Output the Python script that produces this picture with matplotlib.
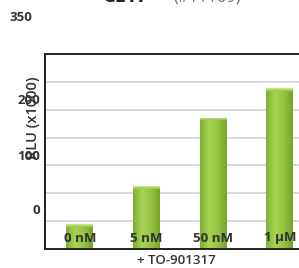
import matplotlib
matplotlib.use("Agg")
import matplotlib.pyplot as plt
import matplotlib.transforms as mtransforms
import numpy as np
from matplotlib.colors import LinearSegmentedColormap

plt.rcParams['font.family'] = ['Open Sans', 'DejaVu Sans']

categories = ["0 nM", "5 nM", "50 nM", "1 \u00b5M"]
values = [44, 113, 236, 289]
ytick_vals = [0, 100, 200]
ytick_labels = ["0", "100", "200"]
top_label_val = 350
top_label = "350"
title_main = "CETP"
title_sub = "(#11169)"
ylabel = "RLU (x1000)"
xlabel = "+ TO-901317"

W, H = 299, 268
fig = plt.figure(figsize=(W / 100, H / 100), dpi=100)

# main plotting axes
ax = fig.add_axes([45 / W, (H - 249) / H, (W - 45) / W + 0.01, (249 - 54) / H])
x = np.arange(len(categories))
bars = ax.bar(x, values, width=0.405, color="#8fc13e", zorder=3, linewidth=0)
ax.set_yticks(np.arange(50, 350, 50))
ax.yaxis.grid(True, color="#d2d2d2", linewidth=1.2, zorder=0)
ax.set_axisbelow(True)
ax.tick_params(axis="y", length=0, labelleft=False)
ax.set_xticks(x)
ax.tick_params(axis="x", length=0, labelbottom=False)
for side in ["top", "left", "bottom"]:
    ax.spines[side].set_linewidth(1.4)
    ax.spines[side].set_color("#222222")
    ax.spines[side].set_zorder(6)
ax.spines["right"].set_visible(False)

# gradient shading on bars
cmap = LinearSegmentedColormap.from_list("g", ["#7eae30", "#a9d453", "#94c442", "#76a52b"])
capmap = LinearSegmentedColormap.from_list("c", ["#a0cc4d", "#c6e482"])
grad = np.linspace(0, 1, 64).reshape(1, -1)
for b in bars:
    x0, y0 = b.get_x(), b.get_y()
    w, h = b.get_width(), b.get_height()
    im = ax.imshow(grad, cmap=cmap, extent=[x0, x0 + w, y0, y0 + h], aspect="auto", zorder=3.5)
    im.set_clip_path(b)
    cap = ax.imshow(np.array([[1.0], [0.0]]), cmap=capmap,
                    extent=[x0, x0 + w, y0 + h - 5, y0 + h], aspect="auto", zorder=3.6)
    cap.set_clip_path(b)
ax.set_xlim(-0.525, 3.33)
ax.set_ylim(0, 350)

# category labels drawn over the bars
trans = mtransforms.blended_transform_factory(ax.transData, ax.transAxes)
for xi, c in zip(x, categories):
    ax.text(xi, (249 - 238) / (249 - 54), c, transform=trans, ha="center", va="center",
            fontsize=9.5, fontweight="bold", color="#333333", zorder=7)

# y tick-label axes (labels are offset from the gridlines as in reference)
lab = fig.add_axes([40 / W, 0, 0.001, 1])
lab.set_ylim(-(H - 209.5) / 0.55, (209.5) / 0.55)
lab.set_yticks(ytick_vals)
lab.set_yticklabels(ytick_labels, fontsize=9.5, fontweight="bold", color="#333333")
lab.tick_params(axis="y", length=0, pad=0)
lab.set_xticks([])
for s in lab.spines.values():
    s.set_visible(False)
lab.patch.set_visible(False)
lab.annotate(top_label, xy=(0, top_label_val), xycoords=("axes fraction", "data"),
             xytext=(-8, 0), textcoords="offset pixels", ha="right", va="center",
             fontsize=9.5, fontweight="bold", color="#333333")

fig.text(33 / W, 1 - 118 / H, ylabel, rotation=90, ha="center", va="center",
         fontsize=10.5, fontweight="semibold", color="#333333")
fig.text(176 / W, 1 - 260 / H, xlabel, ha="center", va="center",
         fontsize=9.5, fontweight="semibold", color="#333333")
fig.text(103 / W, 1 - 1.5 / H, title_main, ha="left", va="baseline",
         fontsize=14.5, fontweight="bold", color="#222222")
fig.text(173 / W, 1 - 1.5 / H, title_sub, ha="left", va="baseline",
         fontsize=12, color="#777777")

fig.savefig("out.png", dpi=100)
